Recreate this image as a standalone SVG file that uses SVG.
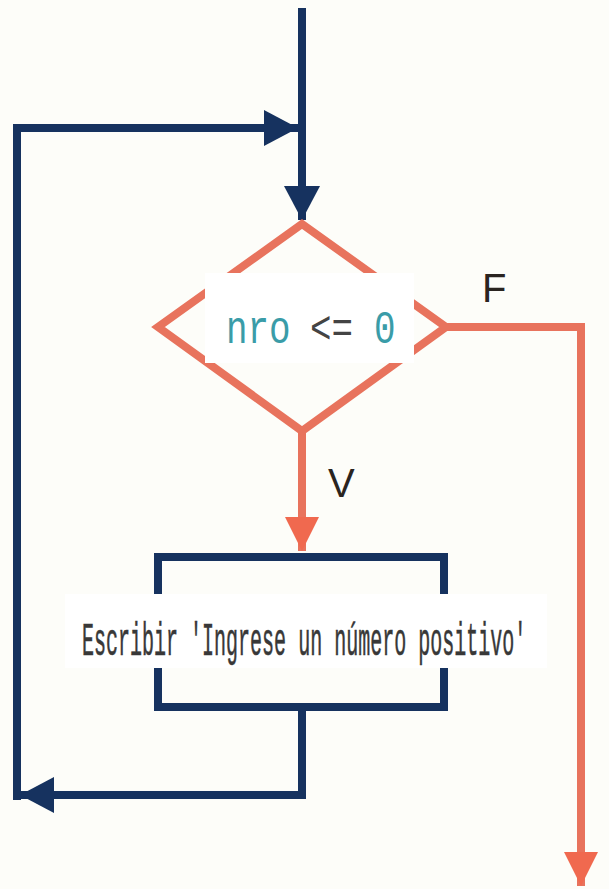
<svg xmlns="http://www.w3.org/2000/svg" width="609" height="889" viewBox="0 0 609 889">
<style>
.navy{fill:none;stroke:#16325f;stroke-width:8;stroke-linejoin:miter}
.orange{fill:none;stroke:#e8735d;stroke-width:8;stroke-linejoin:miter}
.mask{fill:#ffffff;stroke:none}
.lbl{font-family:"Liberation Sans",Arial,sans-serif;font-size:40px;fill:#2a2420}
.mono{font-family:"Liberation Mono","DejaVu Sans Mono",monospace}
.teal{fill:#3a9ca8}
</style>
<defs>
<marker id="an" markerUnits="userSpaceOnUse" markerWidth="40" markerHeight="40" refX="34" refY="18" orient="auto">
<path d="M0,0 L34,18 L0,36 Z" fill="#16325f"/>
</marker>
<marker id="ao" markerUnits="userSpaceOnUse" markerWidth="40" markerHeight="40" refX="34" refY="17" orient="auto">
<path d="M0,0 L34,17 L0,34 Z" fill="#f0694f"/>
</marker>
</defs>
<rect width="609" height="889" fill="#fdfdf9"/>
<g id="connectors">
<path class="navy" d="M302,8 V220" marker-end="url(#an)"/>
<path class="navy" d="M17,800 V128 H298" marker-end="url(#an)"/>
<path class="navy" d="M302,707 V795 H20" marker-end="url(#an)"/>
<path class="orange" d="M302,432 V551" marker-end="url(#ao)"/>
<path class="orange" d="M447,327 H581 V886" marker-end="url(#ao)"/>
<text class="lbl" x="482" y="302">F</text>
<text class="lbl" x="328" y="497">V</text>
</g>
<g id="decision">
<polygon class="orange" points="302,224 446,327 302,431 158,327"/>
<rect class="mask" x="205" y="273" width="209" height="90"/>
<text class="mono teal" font-size="46" transform="translate(226,343) scale(0.78,1)">nro</text>
<text class="mono" font-size="46" fill="#444444" transform="translate(310,343) scale(0.78,1)">&lt;=</text>
<text class="mono teal" font-size="46" transform="translate(374,343) scale(0.78,1)">0</text>
</g>
<g id="process">
<rect class="navy" x="158" y="557" width="286" height="150"/>
<rect class="mask" x="65" y="594" width="482" height="74"/>
<text class="mono" font-size="46" fill="#383838" stroke="#383838" stroke-width="0.6" transform="translate(82,655) scale(0.435,1)">Escribir 'Ingrese un número positivo'</text>
</g>
</svg>
